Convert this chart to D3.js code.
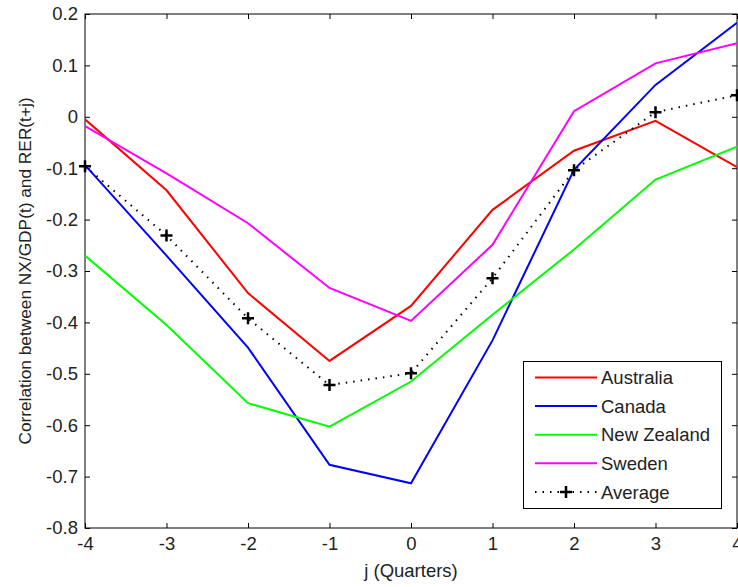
<!DOCTYPE html>
<html><head><meta charset="utf-8">
<script src="https://cdn.jsdelivr.net/npm/d3@7"></script>
<style>body{margin:0;background:#fff}svg{display:block;font-family:"Liberation Sans",Arial,sans-serif}</style>
</head><body><svg id="c" width="738" height="587"></svg>
<script>
const lags = [-4,-3,-2,-1,0,1,2,3,4];
const australia = [-0.005,-0.143,-0.343,-0.475,-0.368,-0.181,-0.066,-0.008,-0.098];
const canada = [-0.094,-0.27,-0.449,-0.677,-0.713,-0.435,-0.103,0.062,0.183];
const newZealand = [-0.27,-0.405,-0.557,-0.603,-0.515,-0.385,-0.258,-0.122,-0.058];
const sweden = [-0.018,-0.11,-0.207,-0.333,-0.397,-0.249,0.011,0.104,0.143];
const average = [-0.096,-0.231,-0.392,-0.522,-0.499,-0.314,-0.104,0.009,0.042];
const xTicks = [-4,-3,-2,-1,0,1,2,3,4];
const yTicks = [-0.8,-0.7,-0.6,-0.5,-0.4,-0.3,-0.2,-0.1,0,0.1,0.2];
const seriesNames = ["Australia","Canada","New Zealand","Sweden","Average"];
const seriesColors = ["#ff0000","#0000ff","#00ff00","#ff00ff","#000000"];

const L=85,R=737,T=14,B=528;
const FS=18.5;
const svg=d3.select("#c");
const x=d3.scaleLinear().domain([-4,4]).range([L,R]);
const y=d3.scaleLinear().domain([-0.8,0.2]).range([B,T]);
const fmt=d=>Math.abs(d)<1e-9?"0":d.toFixed(1);

svg.append("rect").attr("x",L).attr("y",T).attr("width",R-L).attr("height",B-T)
  .attr("fill","#fff").attr("stroke","#000").attr("stroke-width",1);

const tickLen=5;
const axB=svg.append("g").attr("transform",`translate(0,${B})`)
  .call(d3.axisBottom(x).tickValues(xTicks).tickFormat(d=>String(d)).tickSizeInner(-tickLen).tickSizeOuter(0).tickPadding(9));
const axT=svg.append("g").attr("transform",`translate(0,${T})`)
  .call(d3.axisTop(x).tickValues(xTicks).tickFormat("").tickSizeInner(-tickLen).tickSizeOuter(0));
const axL=svg.append("g").attr("transform",`translate(${L},0)`)
  .call(d3.axisLeft(y).tickValues(yTicks).tickFormat(fmt).tickSizeInner(-tickLen).tickSizeOuter(0).tickPadding(7));
const axR=svg.append("g").attr("transform",`translate(${R},0)`)
  .call(d3.axisRight(y).tickValues(yTicks).tickFormat("").tickSizeInner(-tickLen).tickSizeOuter(0));
[axB,axT,axL,axR].forEach(a=>{a.select(".domain").remove();a.selectAll("line").attr("stroke","#000");
  a.selectAll("text").attr("font-size",FS).attr("fill","#222").attr("font-family","Liberation Sans, Arial, sans-serif");});

svg.append("clipPath").attr("id","pc").append("rect").attr("x",L).attr("y",T).attr("width",R-L).attr("height",B-T);
const g=svg.append("g").attr("clip-path","url(#pc)");
const line=d3.line().x((d,i)=>x(lags[i])).y(d=>y(d));
[australia,canada,newZealand,sweden].forEach((s,k)=>{
  g.append("path").datum(s).attr("d",line).attr("fill","none").attr("stroke",seriesColors[k]).attr("stroke-width",2);
});
g.append("path").datum(average).attr("d",line).attr("fill","none").attr("stroke","#000")
  .attr("stroke-width",2).attr("stroke-dasharray","1.5,6");
svg.append("g").selectAll("path").data(average).join("path")
  .attr("d",d3.line()([[-6,0],[6,0]])+d3.line()([[0,-6],[0,6]]))
  .attr("transform",(d,i)=>`translate(${x(lags[i])},${y(d)})`)
  .attr("stroke","#000").attr("stroke-width",2.5).attr("fill","none");

// legend
const lg=svg.append("g");
lg.append("rect").attr("x",523.5).attr("y",361.5).attr("width",198).attr("height",147)
  .attr("fill","#fff").attr("stroke","#000").attr("stroke-width",1);
seriesNames.forEach((n,i)=>{
  const yy=377.5+i*28.6;
  const ln=lg.append("line").attr("x1",535).attr("x2",597).attr("y1",yy).attr("y2",yy)
    .attr("stroke",seriesColors[i]).attr("stroke-width",2);
  if(i===4){
    ln.attr("stroke-dasharray","1.5,6");
    lg.append("path").attr("d",d3.line()([[560,yy],[572,yy]])+d3.line()([[566,yy-6],[566,yy+6]]))
      .attr("stroke","#000").attr("stroke-width",2.5);
  }
  lg.append("text").attr("x",601).attr("y",yy).attr("dy","0.36em").attr("font-size",FS).attr("fill","#222").text(n);
});

svg.append("text").attr("x",(L+R)/2).attr("y",577).attr("text-anchor","middle").attr("font-size",FS).attr("fill","#222").text("j (Quarters)");
svg.append("text").attr("transform",`translate(31,${(T+B)/2}) rotate(-90)`).attr("text-anchor","middle")
  .attr("font-size",17.3).attr("fill","#222").text("Correlation between NX/GDP(t) and RER(t+j)");
</script></body></html>
